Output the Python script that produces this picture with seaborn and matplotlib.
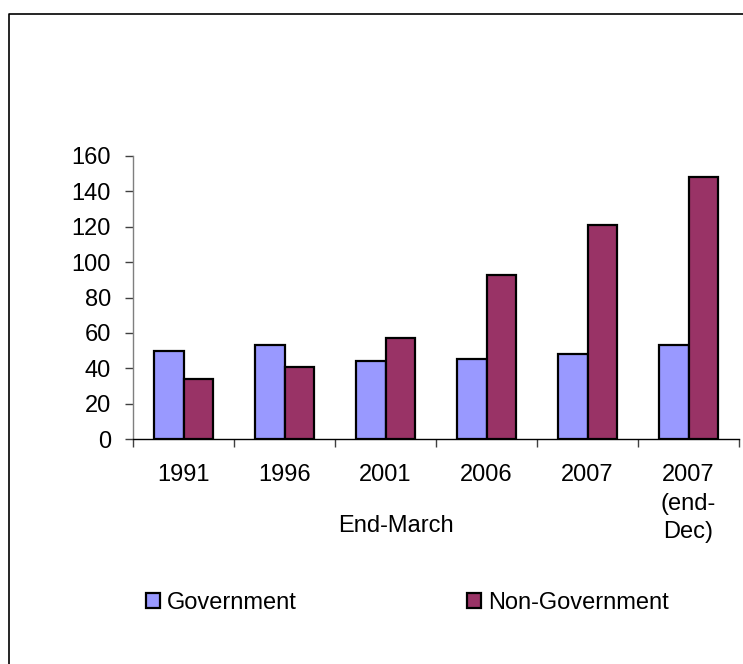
import matplotlib
matplotlib.use("Agg")
import matplotlib.pyplot as plt
from matplotlib.lines import Line2D
from matplotlib.patches import Patch
import pandas as pd
import seaborn as sns

# Category labels (end-March years plus end-December 2007)
periods = ["1991", "1996", "2001", "2006", "2007", "2007\n(end-\nDec)"]
government = [50, 53, 44, 45, 48, 53]
non_government = [34, 40.5, 57, 92.5, 121, 148]
series_names = ["Government", "Non-Government"]
series_colors = ["#9999FF", "#993366"]
y_ticks = [0, 20, 40, 60, 80, 100, 120, 140, 160]

df = pd.DataFrame({
    "period": periods * 2,
    "value": government + non_government,
    "series": [series_names[0]] * len(periods) + [series_names[1]] * len(periods),
})

sns.set_theme(style="white")
plt.rcParams["font.family"] = ["Liberation Sans", "DejaVu Sans"]
plt.rcParams["text.color"] = "black"
FS = 17

W, H = 743, 664
fig = plt.figure(figsize=(W / 100, H / 100), dpi=100)
ax = fig.add_axes([133 / W, (H - 439) / H, 606 / W, 283 / H])

sns.barplot(
    data=df, x="period", y="value", hue="series", order=periods,
    hue_order=series_names, palette=series_colors, saturation=1,
    width=0.58, edgecolor="black", linewidth=1.6, legend=False, ax=ax,
)

ax.set_ylim(0, 160)
ax.set_xlim(-0.5, len(periods) - 0.5)
ax.set_yticks(y_ticks)
ax.set_yticklabels([str(t) for t in y_ticks], fontsize=FS, color="black")
ax.tick_params(axis="y", which="major", direction="out", length=6, width=1,
               color="#404040", pad=10, left=True)

# tick marks between categories, labels centred on each category
ax.set_xticks([i - 0.5 for i in range(len(periods) + 1)])
ax.set_xticklabels([])
ax.set_xticks(range(len(periods)), minor=True)
ax.set_xticklabels(periods, minor=True, fontsize=FS, color="black", linespacing=1.39)
ax.tick_params(axis="x", which="major", direction="out", length=6, width=1,
               color="#404040", bottom=True)
ax.tick_params(axis="x", which="minor", length=0, pad=18)
ax.set_xlabel("")
ax.set_ylabel("")

for side in ["top", "right"]:
    ax.spines[side].set_visible(False)
ax.spines["left"].set_color("#7f7f7f")
ax.spines["bottom"].set_color("black")
ax.spines["left"].set_linewidth(1)
ax.spines["bottom"].set_linewidth(1)

fig.text(395.5 / W, (H - 532) / H, "End-March", ha="center", va="baseline",
         fontsize=FS, color="black")

handles = [Patch(facecolor=c, edgecolor="black", linewidth=1.6) for c in series_colors]
leg = fig.legend(handles, series_names, loc="center left",
                 bbox_to_anchor=(146 / W, (H - 603) / H), ncol=2, frameon=False,
                 fontsize=FS, handlelength=0.6, handleheight=0.6, handletextpad=0.3,
                 columnspacing=7.2, borderpad=0, borderaxespad=0)
for t in leg.get_texts():
    t.set_color("black")

# chart-area outline along the top and left edges
fig.add_artist(Line2D([9 / W, 9 / W, 1.0], [0.0, (H - 14) / H, (H - 14) / H],
                      transform=fig.transFigure, color="black", linewidth=1.2))

fig.savefig("out.png", dpi=100)
